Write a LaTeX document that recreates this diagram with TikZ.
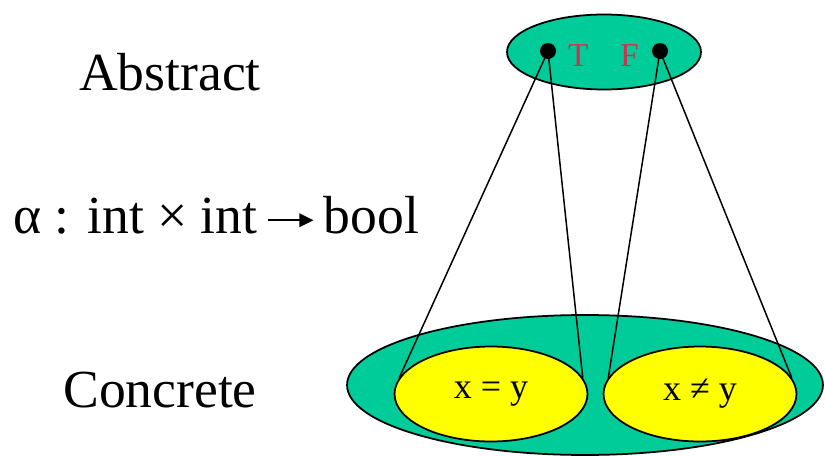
\documentclass[tikz,border=0pt]{standalone}
\usepackage{fontspec}
\setmainfont{Liberation Serif}
\usepackage{tikz}
\usetikzlibrary{shapes.geometric, positioning, arrows.meta}
\definecolor{lattgreen}{RGB}{0,204,153}
\definecolor{lattyellow}{RGB}{255,255,0}
\definecolor{valred}{RGB}{204,51,80}
\newcommand{\maparrow}{\,\tikz[x=1cm, y=1cm, baseline={(0,-0.26cm)}]
  \draw[line width=1.3pt, -{Triangle[length=8pt, width=7.5pt]}] (0,0) -- (0.92,0);\,}

\begin{document}
\begin{tikzpicture}[
  x=0.02cm, y=-0.02cm,
  blob/.style={ellipse, draw=black, line width=1pt, inner sep=0pt},
  valdot/.style={circle, fill=black, inner sep=0pt, minimum size=0.32cm},
  val/.style={font=\fontsize{19}{22}\selectfont, text=valred},
  big/.style={font=\fontsize{30.5}{36}\selectfont},
  map/.style={line width=0.85pt}
]
  \useasboundingbox (0,0) rectangle (825,456);

  % abstract domain
  \node[blob, fill=lattgreen, minimum width=3.88cm, minimum height=1.5cm] (abs) at (604,52) {};
  \node[valdot] (dt) at (548,51) {};
  \node[valdot] (df) at (660,51) {};
  \node[val, anchor=west] (lt) at (562,56) {T};
  \node[val, anchor=east] (lf) at (645,56) {F};

  % concrete domain
  \node[blob, fill=lattgreen, minimum width=9.52cm, minimum height=2.8cm] (con) at (585,385) {};
  \node[blob, fill=lattyellow, minimum width=3.86cm, minimum height=1.9cm,
        font=\fontsize{20.5}{24}\selectfont] (eq) at (491,394) {x = y};
  \node[blob, fill=lattyellow, minimum width=3.86cm, minimum height=1.9cm,
        font=\fontsize{20.5}{24}\selectfont] (ne) at (700,394) {x ≠ y};

  % abstraction lines
  \draw[map] (dt.center) -- (eq.170);
  \draw[map] (dt.center) -- (eq.10);
  \draw[map] (df.center) -- (ne.170);
  \draw[map] (df.center) -- (ne.10);

  % labels on the left
  \node[big] (labs) at (170,72) {Abstract};
  \node[big] (lalpha) at (216,215) {α : int × int\maparrow bool};
  \node[big] (lcon) at (160,390) {Concrete};
\end{tikzpicture}
\end{document}
